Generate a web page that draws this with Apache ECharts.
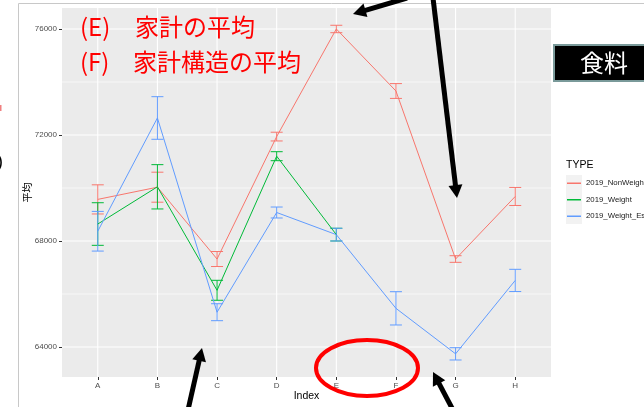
<!DOCTYPE html>
<html>
<head>
<meta charset="utf-8">
<script src="https://cdn.jsdelivr.net/npm/echarts@6/dist/echarts.min.js"></script>
<style>
	html, body {margin: 0; padding: 0; background: #fff;}
	#chart {width: 644px; height: 407px;}
</style>
</head>
<body>
<div id="chart"></div>
<script>
const categories = ['A', 'B', 'C', 'D', 'E', 'F', 'G', 'H'];
const typeNames = ['2019_NonWeight', '2019_Weight', '2019_Weight_Est'];
const typeColors = ['#F8766D', '#00BA38', '#619CFF'];

// means and error half-widths
const nonWeightMean = [69570, 70030, 67320, 71940, 76000, 73660, 67320, 69680];
const nonWeightErr = [550, 566, 283, 165, 140, 280, 125, 340];
const weightMean = [68640, 70045, 66140, 71200, 68240];
const weightErr = [804, 836, 377, 170, 240];
const weightEstMean = [68368, 72642, 65313, 69075, 68240, 65459, 63742, 66512];
const weightEstErr = [749, 804, 320, 207, 240, 628, 232, 419];

const yTicks = [64000, 68000, 72000, 76000];
const yMinor = [66000, 70000, 74000];

const means = [nonWeightMean, weightMean, weightEstMean];
const errs = [nonWeightErr, weightErr, weightEstErr];

const chart = echarts.init(document.getElementById('chart'), null, {renderer: 'canvas'});

function gridLines(values, axis, width) {
	return {
		type: 'custom',
		silent: true,
		z: 1,
		data: values.map(v => axis === 'x' ? [v, 70000] : [0, v]),
		renderItem(params, api) {
			const cs = params.coordSys;
			const p = api.coord([api.value(0), api.value(1)]);
			const shape = axis === 'x'
				? {x1: p[0], y1: cs.y, x2: p[0], y2: cs.y + cs.height}
				: {x1: cs.x, y1: p[1], x2: cs.x + cs.width, y2: p[1]};
			return {type: 'line', shape, style: {stroke: '#FFFFFF', lineWidth: width}};
		},
	};
}

function errorBars(i) {
	return {
		type: 'custom',
		name: 'err_' + typeNames[i],
		silent: true,
		z: 3,
		data: means[i].map((m, k) => [k, m, errs[i][k]]),
		renderItem(params, api) {
			const x = api.value(0);
			const m = api.value(1);
			const e = api.value(2);
			const top = api.coord([x, m + e]);
			const bot = api.coord([x, m - e]);
			const hw = 6;
			const style = {stroke: typeColors[i], lineWidth: 1};
			return {
				type: 'group',
				children: [
					{type: 'line', shape: {x1: top[0], y1: top[1], x2: bot[0], y2: bot[1]}, style},
					{type: 'line', shape: {x1: top[0] - hw, y1: top[1], x2: top[0] + hw, y2: top[1]}, style},
					{type: 'line', shape: {x1: bot[0] - hw, y1: bot[1], x2: bot[0] + hw, y2: bot[1]}, style},
				],
			};
		},
	};
}

function lineSeries(i) {
	return {
		type: 'line',
		name: typeNames[i],
		z: 4,
		showSymbol: false,
		color: typeColors[i],
		lineStyle: {width: 1, color: typeColors[i]},
		data: means[i].map((m, k) => [k, m]),
	};
}

function arrow(x1, y1, x2, y2) {
	const len = Math.hypot(x2 - x1, y2 - y1);
	const ux = (x2 - x1) / len;
	const uy = (y2 - y1) / len;
	const head = 13;
	const half = 7;
	const bx = x2 - ux * head;
	const by = y2 - uy * head;
	return [
		{type: 'line', z: 50, shape: {x1, y1, x2: bx + ux, y2: by + uy}, style: {stroke: '#000', lineWidth: 5}},
		{type: 'polygon', z: 50, shape: {points: [[x2, y2], [bx - uy * half, by + ux * half], [bx + uy * half, by - ux * half]]}, style: {fill: '#000'}},
	];
}

const axisText = {color: '#4D4D4D', fontSize: 8, fontFamily: 'Liberation Sans'};
const redText = {fontSize: 24, fontFamily: 'Noto Sans CJK JP', fill: '#FF0000', verticalAlign: 'middle'};

chart.setOption({
	animation: false,
	grid: {
		left: 62, right: 93, top: 8, bottom: 30,
		show: true, backgroundColor: '#EBEBEB', borderWidth: 0,
		outerBoundsMode: 'none',
	},
	xAxis: {
		type: 'value',
		min: -0.6,
		max: 7.6,
		name: 'Index',
		nameLocation: 'middle',
		nameGap: 14,
		nameMoveOverlap: false,
		nameTextStyle: {color: '#000', fontSize: 10.5, fontFamily: 'Liberation Sans'},
		axisLine: {show: false, onZero: false},
		splitLine: {show: false},
		axisTick: {show: true, customValues: categories.map((c, k) => k), length: 3, lineStyle: {color: '#333', width: 1}},
		axisLabel: {customValues: categories.map((c, k) => k), margin: 5, formatter: v => categories[v], ...axisText},
	},
	yAxis: {
		type: 'value',
		min: 62868,
		max: 76792,
		name: '平均',
		nameLocation: 'middle',
		nameRotate: 90,
		nameGap: 30,
		nameMoveOverlap: false,
		nameTextStyle: {color: '#000', fontSize: 10, fontFamily: 'Noto Sans CJK JP'},
		axisLine: {show: false, onZero: false},
		splitLine: {show: false},
		axisTick: {show: true, customValues: yTicks, length: 3, lineStyle: {color: '#333', width: 1}},
		axisLabel: {customValues: yTicks, margin: 5, formatter: v => String(v), ...axisText},
	},
	legend: {
		data: typeNames,
		orient: 'vertical',
		left: 567,
		top: 175,
		z: 10,
		padding: 0,
		icon: 'rect',
		itemWidth: 14,
		itemHeight: 1.5,
		itemGap: 0,
		textStyle: {color: '#1A1A1A', fontSize: 7.8, lineHeight: 16.5, fontFamily: 'Liberation Sans'},
	},
	series: [
		gridLines(yMinor, 'y', 0.6),
		gridLines(yTicks, 'y', 1.1),
		gridLines(categories.map((c, k) => k), 'x', 1.1),
		lineSeries(0), lineSeries(1), lineSeries(2),
		errorBars(0), errorBars(1), errorBars(2),
	],
	graphic: [
		// outer frame of the screenshot
		{type: 'line', shape: {x1: 18.5, y1: 3.5, x2: 644, y2: 3.5}, style: {stroke: '#C8C8C8', lineWidth: 1}},
		{type: 'line', shape: {x1: 18.5, y1: 3.5, x2: 18.5, y2: 407}, style: {stroke: '#C8C8C8', lineWidth: 1}},
		// legend title and key backgrounds
		{type: 'text', left: 566, top: 160, style: {text: 'TYPE', fontSize: 10.5, fontFamily: 'Liberation Sans', fill: '#000'}},
		{type: 'rect', z: 1, shape: {x: 566, y: 175, width: 16, height: 49}, style: {fill: '#F2F2F2'}},
		// annotations
		{type: 'text', z: 40, x: 80, y: 27, style: {text: '(E)', ...redText}},
		{type: 'text', z: 40, x: 135, y: 27, style: {text: '家計の平均', ...redText}},
		{type: 'text', z: 40, x: 80, y: 62, style: {text: '(F)', ...redText}},
		{type: 'text', z: 40, x: 133, y: 62, style: {text: '家計構造の平均', ...redText}},
		{type: 'rect', z: 40, shape: {x: 554, y: 45, width: 100, height: 36}, style: {fill: '#000', stroke: '#7A9A9A', lineWidth: 2}},
		{type: 'text', z: 41, x: 604, y: 63, style: {text: '食料', fontSize: 24, fontFamily: 'Noto Sans CJK JP', fill: '#FFF', align: 'center', verticalAlign: 'middle'}},
		{type: 'ellipse', z: 45, shape: {cx: 367, cy: 368, rx: 51, ry: 28}, style: {fill: 'none', stroke: '#FF0000', lineWidth: 4}},
		{type: 'text', z: 40, x: -3, y: 162, style: {text: ')', fontSize: 18, fontFamily: 'Liberation Sans', fill: '#000', verticalAlign: 'middle'}},
		{type: 'rect', z: 40, shape: {x: 0, y: 105, width: 1.5, height: 6}, style: {fill: '#F08080'}},
		...arrow(407, -2, 353, 14),
		...arrow(433, -2, 457, 198),
		...arrow(188, 410, 202, 348),
		...arrow(453, 410, 433, 372),
	],
});
</script>
</body>
</html>
